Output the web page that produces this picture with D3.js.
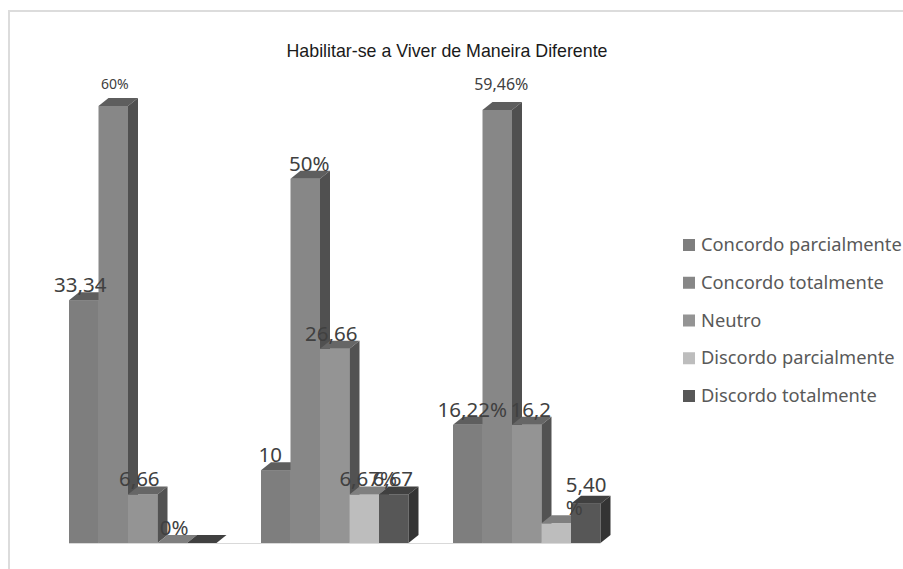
<!DOCTYPE html>
<html>
<head>
<meta charset="utf-8">
<style>
html, body { margin: 0; background: #fff; }
svg { display: block; }
text { font-family: "Noto Sans", "Open Sans", sans-serif; }
</style>
</head>
<body>
<svg width="903" height="569"></svg>
<script src="https://d3js.org/d3.v7.min.js"></script>
<script>
var groups = ["A", "B", "C"];
var series = ["Concordo parcialmente", "Concordo totalmente", "Neutro", "Discordo parcialmente", "Discordo totalmente"];

// one list per series, one value per group
var concordoParcial = [33.34, 10, 16.22];
var concordoTotal = [60, 50, 59.46];
var neutro = [6.66, 26.66, 16.22];
var discordoParcial = [0, 6.67, 2.7];
var discordoTotal = [0, 6.67, 5.4];
var values = [concordoParcial, concordoTotal, neutro, discordoParcial, discordoTotal];

// printed labels, "" = none, "|" = wrapped line
var labelsParcial = ["33,34", "10", "16,22%"];
var labelsTotal = ["60%", "50%", "59,46%"];
var labelsNeutro = ["6,66", "26,66", "16,2"];
var labelsDiscParcial = ["0%", "6,67%", ""];
var labelsDiscTotal = ["", "6,67", "5,40|%"];
var labels = [labelsParcial, labelsTotal, labelsNeutro, labelsDiscParcial, labelsDiscTotal];

var frontColors = ["#7e7e7e", "#878787", "#949494", "#bdbdbd", "#575757"];
var topColors = ["#5e5e5e", "#5e5e5e", "#666666", "#7f7f7f", "#404040"];
var sideColors = ["#4f4f4f", "#505050", "#525252", "#666666", "#343434"];

// horizontal shift of each label from its bar centre, [series][group]
var labelShift = [[-3.5, -5.5, 4.5], [1.5, 4, 4], [-3.5, -3.5, 4], [2, 4, 0], [0, -1, 0]];

var svg = d3.select("svg");

var baseY = 543, depthX = 10, depthY = 8;

var x0 = d3.scaleBand().domain(groups).range([69, 645]).paddingInner(0).paddingOuter(0).align(0);
var x1 = d3.scaleBand().domain(d3.range(series.length)).range([0, 147.5]);
var y = d3.scaleLinear().domain([0, 60]).range([baseY, 106]);

// chart frame, top and left only
svg.append("path")
    .attr("d", "M9,569V11H903")
    .attr("fill", "none")
    .attr("stroke", "#dcdcdc")
    .attr("stroke-width", 2);

svg.append("text")
    .attr("x", 447)
    .attr("y", 57)
    .attr("text-anchor", "middle")
    .attr("font-size", 19)
    .style("font-family", "'Liberation Sans', sans-serif")
    .attr("fill", "#1a1a1a")
    .attr("textLength", 321)
    .attr("lengthAdjust", "spacingAndGlyphs")
    .text("Habilitar-se a Viver de Maneira Diferente");

svg.append("line")
    .attr("x1", x0("A"))
    .attr("x2", x0("C") + x1.range()[1])
    .attr("y1", baseY + 0.5)
    .attr("y2", baseY + 0.5)
    .attr("stroke", "#d9d9d9");

var bars = [];
groups.forEach(function(g, gi) {
  series.forEach(function(s, si) {
    bars.push({group: g, si: si, value: values[si][gi], label: labels[si][gi], shift: labelShift[si][gi]});
  });
});

function poly(points) {
  return d3.line()(points) + "Z";
}

var bar = svg.append("g").selectAll("g")
    .data(bars)
    .enter().append("g");

bar.append("rect")
    .attr("x", function(d) { return x0(d.group) + x1(d.si); })
    .attr("y", function(d) { return y(d.value); })
    .attr("width", x1.bandwidth())
    .attr("height", function(d) { return baseY - y(d.value); })
    .attr("fill", function(d) { return frontColors[d.si]; });

bar.append("path")
    .attr("fill", function(d) { return topColors[d.si]; })
    .attr("d", function(d) {
      var l = x0(d.group) + x1(d.si), r = l + x1.bandwidth(), t = y(d.value);
      return poly([[l, t], [l + depthX, t - depthY], [r + depthX, t - depthY], [r, t]]);
    });

bar.append("path")
    .attr("fill", function(d) { return sideColors[d.si]; })
    .attr("d", function(d) {
      var r = x0(d.group) + x1(d.si) + x1.bandwidth(), t = y(d.value);
      return poly([[r, t], [r + depthX, t - depthY], [r + depthX, baseY - depthY], [r, baseY]]);
    });

// the two small labels sit higher than the rest
var smallLabels = {"60%": {size: 14, lift: 17}, "59,46%": {size: 16, lift: 20}};

svg.append("g").selectAll("text")
    .data(bars.filter(function(d) { return d.label; }))
    .enter().append("text")
    .attr("fill", "#404040")
    .attr("font-size", function(d) { return smallLabels[d.label] ? smallLabels[d.label].size : 20.5; })
    .attr("y", function(d) { return y(d.value) - (smallLabels[d.label] ? smallLabels[d.label].lift : 8); })
    .each(function(d) {
      var el = d3.select(this), cx = x0(d.group) + x1(d.si) + x1.bandwidth() / 2 + d.shift;
      var lines = d.label.split("|");
      if (lines.length == 1) {
        el.attr("x", cx).attr("text-anchor", "middle").text(d.label);
      } else {
        el.attr("x", cx - 20).attr("y", y(d.value) - 12);
        lines.forEach(function(t, i) {
          el.append("tspan").attr("x", cx - 20).attr("dy", i ? 23 : 0).text(t);
        });
      }
    });

var legendY = d3.scalePoint().domain(series).range([245, 396]);

var legend = svg.append("g").selectAll("g")
    .data(series)
    .enter().append("g")
    .attr("transform", function(d) { return "translate(683," + legendY(d) + ")"; });

legend.append("rect")
    .attr("y", -6)
    .attr("width", 12)
    .attr("height", 12)
    .attr("fill", function(d, i) { return frontColors[i]; });

legend.append("text")
    .attr("x", 18)
    .attr("y", 6)
    .attr("font-size", 18.3)
    .attr("fill", "#595959")
    .text(function(d) { return d; });
</script>
</body>
</html>
